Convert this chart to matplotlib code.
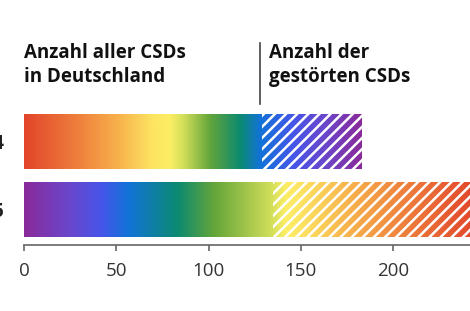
import numpy as np
import matplotlib
matplotlib.use("Agg")
import matplotlib.pyplot as plt
from matplotlib import font_manager
from matplotlib.colors import LinearSegmentedColormap

# Data
years = ["2024", "2025"]
all_csds = [129, 135]          # solid part of each bar
total_csds = [183, 245]        # end of the hatched part
title_left = "Anzahl aller CSDs\nin Deutschland"
title_right = "Anzahl der\ngestörten CSDs"
x_ticks = [0, 50, 100, 150, 200]

# rainbow colours (red -> purple) and where they sit along each bar
rainbow = ["#e2452b", "#f0883f", "#f8b24c", "#fde462", "#fdee64", "#d4e05a",
           "#64a53a", "#0c8a70", "#1173d8", "#4655e8", "#6a47cc", "#8a2a9a"]
stops_2024 = [0.0, 0.18, 0.28, 0.38, 0.43, 0.47, 0.55, 0.64, 0.70, 0.80, 0.89, 1.0]
# 2025 runs the other way (purple -> red)
stops_2025 = [0.0, 0.10, 0.17, 0.23, 0.34, 0.42, 0.55, 0.58, 0.61, 0.72, 0.82, 1.0]

# pick a bold-capable sans (Noto Sans if its bold is installed)
bold_ok = any(f.name == "Noto Sans" and (f.weight in ("bold", 700) or
              (isinstance(f.weight, int) and f.weight >= 600))
              for f in font_manager.fontManager.ttflist)
family = "Noto Sans" if bold_ok else "Open Sans"
plt.rcParams["font.family"] = [family, "DejaVu Sans"]
plt.rcParams["hatch.linewidth"] = 1.8

fig = plt.figure(figsize=(4.7, 3.11), dpi=100)
ax = fig.add_axes([24 / 470, 66 / 311, 446 / 470, 140 / 311])

y_pos = [1, 0]
bar_h = 0.8

for i, year in enumerate(years):
    y = y_pos[i]
    if i == 0:
        cmap = LinearSegmentedColormap.from_list("r24", list(zip(stops_2024, rainbow)))
    else:
        cmap = LinearSegmentedColormap.from_list("r25", list(zip(stops_2025, rainbow[::-1])))
    img = cmap(np.linspace(0, 1, 512))[np.newaxis, :, :]
    ax.imshow(img, extent=[0, total_csds[i], y - bar_h / 2, y + bar_h / 2],
              aspect="auto", interpolation="bilinear", zorder=1)
    # hatched part = disturbed CSDs
    ax.barh(y, total_csds[i] - all_csds[i], left=all_csds[i], height=bar_h,
            color="none", edgecolor="white", hatch="///", linewidth=0, zorder=2)

ax.set_xlim(0, 241.6)
ax.set_ylim(-0.52, 1.53)

for s in ["top", "right", "left"]:
    ax.spines[s].set_visible(False)
ax.spines["bottom"].set_color("#666666")
ax.spines["bottom"].set_linewidth(1.2)

ax.set_xticks(x_ticks)
ax.tick_params(axis="x", length=4, width=1.2, color="#666666", labelsize=13.5,
               labelcolor="#333333", pad=8)
ax.set_yticks(y_pos)
ax.set_yticklabels(years, fontsize=13.5, fontweight="bold", color="#222222")
ax.tick_params(axis="y", length=0, pad=14)

# headings
fig.text(24 / 470, 1 - 82 / 311, title_left, fontsize=13.5, fontweight="bold",
         color="#111111", va="baseline", ha="left", linespacing=1.3)
fig.text(269 / 470, 1 - 82 / 311, title_right, fontsize=13.5, fontweight="bold",
         color="#111111", va="baseline", ha="left", linespacing=1.3)
fig.add_artist(plt.Line2D([260 / 470, 260 / 470], [1 - 43 / 311, 1 - 104 / 311],
                          color="#444444", linewidth=1.2))

fig.savefig("out.png", dpi=100)
